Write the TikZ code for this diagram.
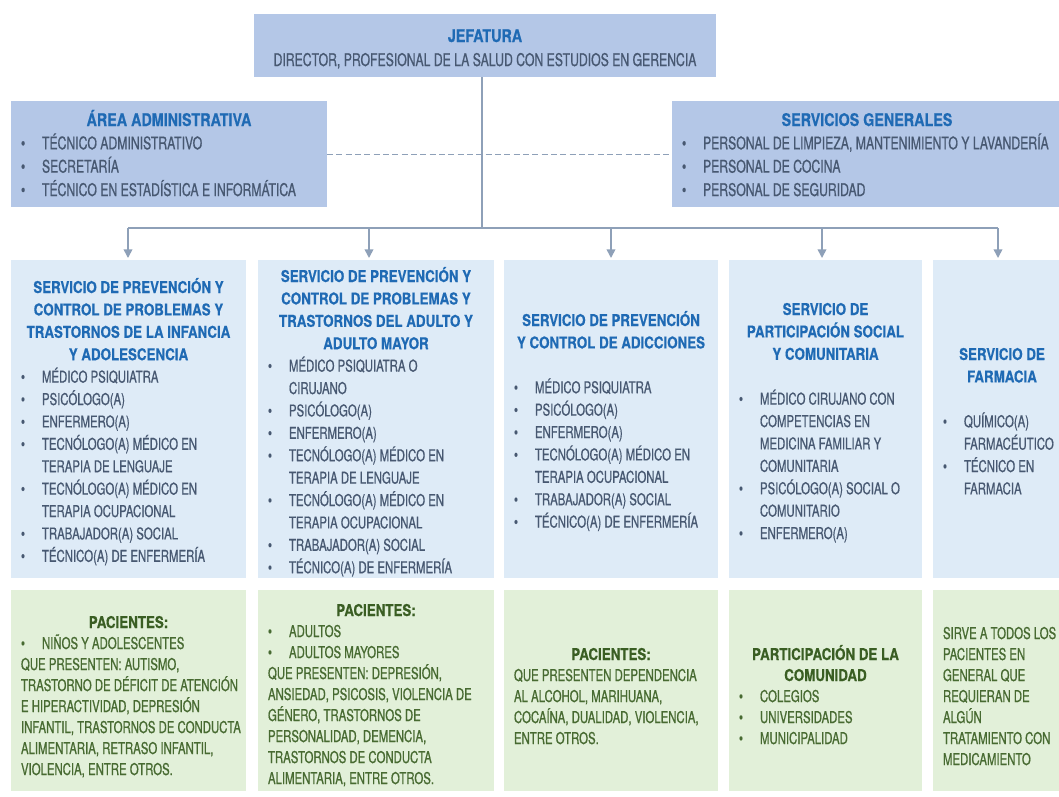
\documentclass[tikz,border=0pt]{standalone}
\usepackage{fontspec}
\setmainfont{TeX Gyre Heros}[UprightFeatures={FakeStretch=0.70,FakeBold=0.7},BoldFeatures={FakeStretch=0.82,FakeBold=0.5}]
\usetikzlibrary{fit,arrows.meta}
\definecolor{topfill}{HTML}{B4C7E7}
\definecolor{midfill}{HTML}{DEEBF7}
\definecolor{botfill}{HTML}{E2F0D9}
\definecolor{tblue}{HTML}{1F6AB4}
\definecolor{tgray}{HTML}{475871}
\definecolor{gtitle}{HTML}{3A5E23}
\definecolor{gtext}{HTML}{476A31}
\definecolor{linec}{HTML}{8EA0B8}
\newlength{\ttw}
\newcommand{\fstrut}{\rule{0pt}{13pt}}
\newcommand{\bu}{\makebox[15.75pt][l]{\textbullet}}
\newcommand{\nbu}{\hspace*{15.75pt}}
\newcommand{\ttl}[1]{\makebox[\ttw][c]{\bfseries\color{tblue}#1}}
\newcommand{\gttl}[1]{\makebox[\ttw][c]{\bfseries\color{gtitle}#1}}
\begin{document}
\begin{tikzpicture}[x=0.75pt,y=-0.75pt,
  box/.style={inner sep=0pt,outer sep=0pt,draw=none},
  tw/.code={\global\ttw=#1\relax},
  txt/.style={inner sep=0pt,outer sep=0pt,anchor=north west,align=left,text=tgray},
  tops/.style={txt,font={\fontsize{13.1}{17.5}\selectfont}},
  mids/.style={txt,font={\fontsize{12.2}{16.8}\selectfont}},
  bots/.style={txt,text=gtext,font={\fontsize{12.2}{15.75}\selectfont}},
  conn/.style={draw=linec,line width=1.2pt},
  arr/.style={conn,-{Triangle[width=6.5pt,length=6.5pt]},shorten >=1.5pt},
  dashl/.style={draw=linec,line width=0.7pt,dash pattern=on 4.5pt off 2.5pt}]
\useasboundingbox (0,0) rectangle (1059,796);
\clip (0,0) rectangle (1059,796);
\fill[white] (0,0) rectangle (1059,796);
% boxes
\node[box,fill=topfill,fit={(254,14)(716,77)}] (jef) {};
\node[box,fill=topfill,fit={(11,101)(327,207)}] (adm) {};
\node[box,fill=topfill,fit={(672,101)(1062,207)}] (sg) {};
\node[box,fill=midfill,fit={(11,260)(246,578)}] (s1) {};
\node[box,fill=midfill,fit={(258,260)(494,578)}] (s2) {};
\node[box,fill=midfill,fit={(504,260)(718,578)}] (s3) {};
\node[box,fill=midfill,fit={(729,260)(922,578)}] (s4) {};
\node[box,fill=midfill,fit={(933,260)(1071,578)}] (s5) {};
\node[box,fill=botfill,fit={(11,590)(246,791)}] (p1) {};
\node[box,fill=botfill,fit={(258,590)(494,791)}] (p2) {};
\node[box,fill=botfill,fit={(504,590)(718,791)}] (p3) {};
\node[box,fill=botfill,fit={(729,590)(922,791)}] (p4) {};
\node[box,fill=botfill,fit={(933,590)(1071,791)}] (p5) {};
% connectors
\draw[dashl] (adm.east) -- (sg.west);
\coordinate (bus) at (482,228);
\coordinate (k1) at (128,228);
\coordinate (k2) at (369,228);
\coordinate (k3) at (611,228);
\coordinate (k4) at (822,228);
\coordinate (k5) at (998,228);
\draw[conn] (jef.south -| bus) -- (bus);
\draw[conn] (k1) -- (k5);
\foreach \i in {1,...,5} \draw[arr] (k\i) -- (k\i |- s\i.north);
% texts
\node[txt,anchor=north,align=center,font={\fontsize{13.1}{18}\selectfont}] (jeft) at (485,24.67)
  {\fstrut{\bfseries\color{tblue}JEFATURA}\\ DIRECTOR, PROFESIONAL DE LA SALUD CON ESTUDIOS EN GERENCIA};
\node[tops,tw=222pt] (admt) at (21,108.67)
  {\fstrut\ttl{ÁREA ADMINISTRATIVA}\\
   \bu TÉCNICO ADMINISTRATIVO\\
   \bu SECRETARÍA\\
   \bu TÉCNICO EN ESTADÍSTICA E INFORMÁTICA};
\node[tops,tw=277.5pt] (sgt) at (682,108.67)
  {\fstrut\ttl{SERVICIOS GENERALES}\\
   \bu PERSONAL DE LIMPIEZA, MANTENIMIENTO Y LAVANDERÍA\\
   \bu PERSONAL DE COCINA\\
   \bu PERSONAL DE SEGURIDAD};
\node[mids,tw=161.25pt] (s1t) at (21,275.67)
  {\fstrut\ttl{SERVICIO DE PREVENCIÓN Y}\\
   \ttl{CONTROL DE PROBLEMAS Y}\\
   \ttl{TRASTORNOS DE LA INFANCIA}\\
   \ttl{Y ADOLESCENCIA}\\
   \bu MÉDICO PSIQUIATRA\\
   \bu PSICÓLOGO(A)\\
   \bu ENFERMERO(A)\\
   \bu TECNÓLOGO(A) MÉDICO EN\\
   \nbu TERAPIA DE LENGUAJE\\
   \bu TECNÓLOGO(A) MÉDICO EN\\
   \nbu TERAPIA OCUPACIONAL\\
   \bu TRABAJADOR(A) SOCIAL\\
   \bu TÉCNICO(A) DE ENFERMERÍA};
\node[mids,tw=162pt] (s2t) at (268,264.67)
  {\fstrut\ttl{SERVICIO DE PREVENCIÓN Y}\\
   \ttl{CONTROL DE PROBLEMAS Y}\\
   \ttl{TRASTORNOS DEL ADULTO Y}\\
   \ttl{ADULTO MAYOR}\\
   \bu MÉDICO PSIQUIATRA O\\
   \nbu CIRUJANO\\
   \bu PSICÓLOGO(A)\\
   \bu ENFERMERO(A)\\
   \bu TECNÓLOGO(A) MÉDICO EN\\
   \nbu TERAPIA DE LENGUAJE\\
   \bu TECNÓLOGO(A) MÉDICO EN\\
   \nbu TERAPIA OCUPACIONAL\\
   \bu TRABAJADOR(A) SOCIAL\\
   \bu TÉCNICO(A) DE ENFERMERÍA};
\node[mids,tw=145.5pt] (s3t) at (514,308.67)
  {\fstrut\ttl{SERVICIO DE PREVENCIÓN}\\
   \ttl{Y CONTROL DE ADICCIONES}\\[16.8pt]
   \bu MÉDICO PSIQUIATRA\\
   \bu PSICÓLOGO(A)\\
   \bu ENFERMERO(A)\\
   \bu TECNÓLOGO(A) MÉDICO EN\\
   \nbu TERAPIA OCUPACIONAL\\
   \bu TRABAJADOR(A) SOCIAL\\
   \bu TÉCNICO(A) DE ENFERMERÍA};
\node[mids,tw=129.75pt] (s4t) at (739,297.67)
  {\fstrut\ttl{SERVICIO DE}\\
   \ttl{PARTICIPACIÓN SOCIAL}\\
   \ttl{Y COMUNITARIA}\\[16.8pt]
   \bu MÉDICO CIRUJANO CON\\
   \nbu COMPETENCIAS EN\\
   \nbu MEDICINA FAMILIAR Y\\
   \nbu COMUNITARIA\\
   \bu PSICÓLOGO(A) SOCIAL O\\
   \nbu COMUNITARIO\\
   \bu ENFERMERO(A)};
\node[mids,tw=88.5pt] (s5t) at (943,342.67)
  {\fstrut\ttl{SERVICIO DE}\\
   \ttl{FARMACIA}\\[16.8pt]
   \bu QUÍMICO(A)\\
   \nbu FARMACÉUTICO\\
   \bu TÉCNICO EN\\
   \nbu FARMACIA};
\node[bots,tw=161.25pt] (p1t) at (21,610.67)
  {\fstrut\gttl{PACIENTES:}\\
   \bu NIÑOS Y ADOLESCENTES\\
   QUE PRESENTEN: AUTISMO,\\
   TRASTORNO DE DÉFICIT DE ATENCIÓN\\
   E HIPERACTIVIDAD, DEPRESIÓN\\
   INFANTIL, TRASTORNOS DE CONDUCTA\\
   ALIMENTARIA, RETRASO INFANTIL,\\
   VIOLENCIA, ENTRE OTROS.};
\node[bots,tw=162pt] (p2t) at (268,598.67)
  {\fstrut\gttl{PACIENTES:}\\
   \bu ADULTOS\\
   \bu ADULTOS MAYORES\\
   QUE PRESENTEN: DEPRESIÓN,\\
   ANSIEDAD, PSICOSIS, VIOLENCIA DE\\
   GÉNERO, TRASTORNOS DE\\
   PERSONALIDAD, DEMENCIA,\\
   TRASTORNOS DE CONDUCTA\\
   ALIMENTARIA, ENTRE OTROS.};
\node[bots,tw=145.5pt] (p3t) at (514,642.67)
  {\fstrut\gttl{PACIENTES:}\\
   QUE PRESENTEN DEPENDENCIA\\
   AL ALCOHOL, MARIHUANA,\\
   COCAÍNA, DUALIDAD, VIOLENCIA,\\
   ENTRE OTROS.};
\node[bots,tw=129.75pt] (p4t) at (739,642.67)
  {\fstrut\gttl{PARTICIPACIÓN DE LA}\\
   \gttl{COMUNIDAD}\\
   \bu COLEGIOS\\
   \bu UNIVERSIDADES\\
   \bu MUNICIPALIDAD};
\node[bots,tw=88.5pt] (p5t) at (943,621.67)
  {\fstrut SIRVE A TODOS LOS\\
   PACIENTES EN\\
   GENERAL QUE\\
   REQUIERAN DE\\
   ALGÚN\\
   TRATAMIENTO CON\\
   MEDICAMIENTO};
\end{tikzpicture}
\end{document}
